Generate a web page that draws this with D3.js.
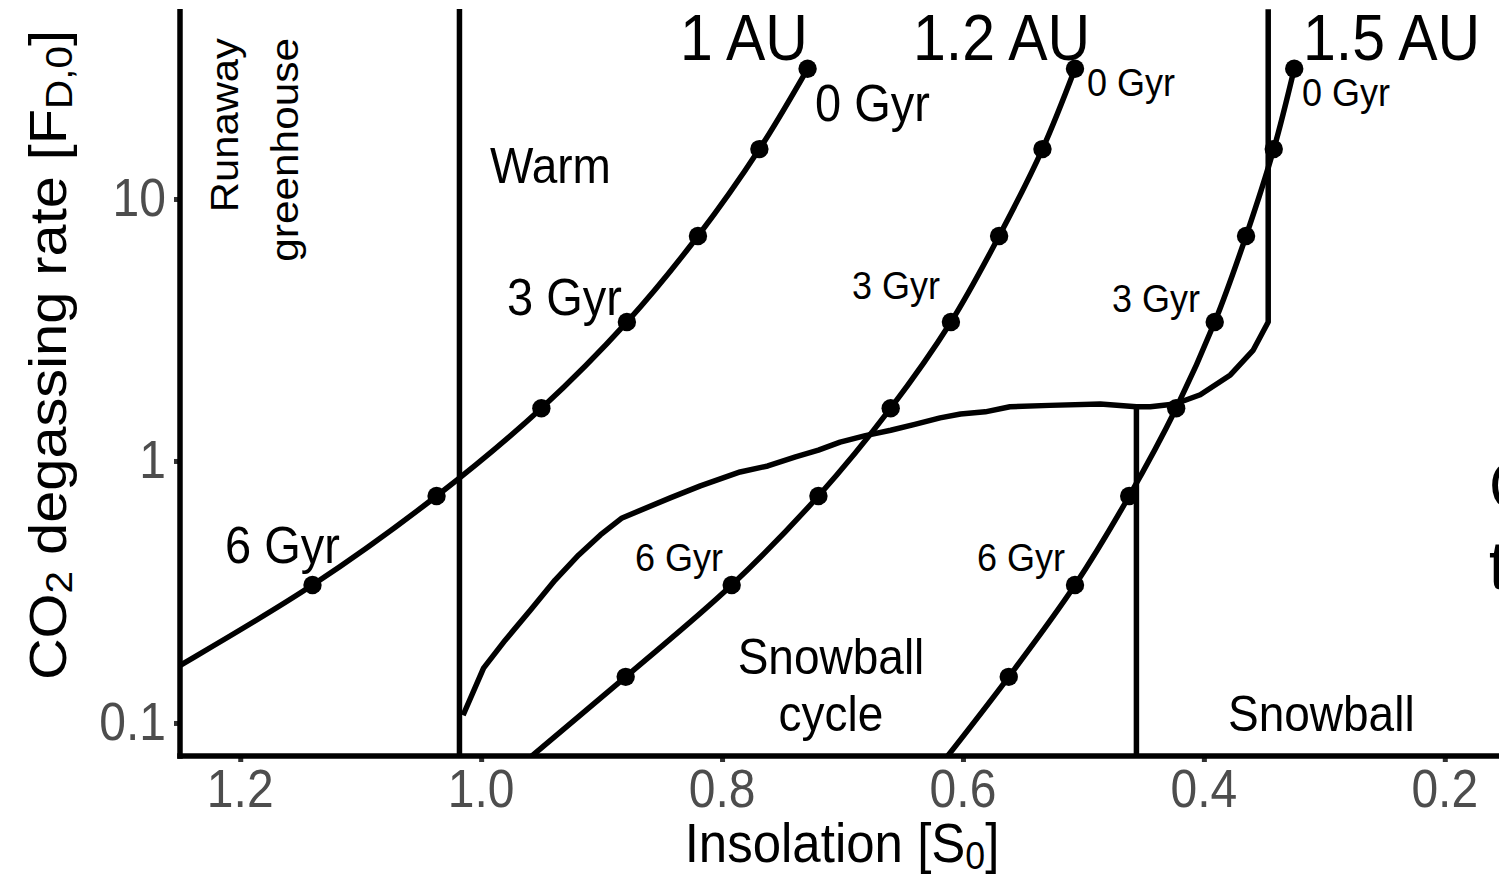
<!DOCTYPE html>
<html>
<head>
<meta charset="utf-8">
<script src="https://cdn.jsdelivr.net/npm/d3@7"></script>
<style>
  body { margin: 0; background: #fff; }
  svg { display: block; }
  text { font-family: "Liberation Sans", Arial, sans-serif; }
</style>
</head>
<body>
<svg id="chart" width="1499" height="879"></svg>
<script>
// Planet age (Gyr) and CO2 degassing rate relative to present [F_D,0]
const ages = [0, 1, 2, 3, 4, 5, 6, 7, 8];
const degassing = [31.4, 15.5, 7.22, 3.39, 1.59, 0.735, 0.336, 0.150, 0.066];

// Insolation [S0] received over time at each orbital distance
const insolation1AU  = [0.729, 0.769, 0.820, 0.879, 0.950, 1.037, 1.140, 1.266, 1.400];
const insolation12AU = [0.507, 0.534, 0.570, 0.610, 0.660, 0.720, 0.792, 0.880, 0.972];
const insolation15AU = [0.325, 0.342, 0.365, 0.391, 0.423, 0.462, 0.507, 0.562, 0.622];

// Climate regime boundaries
const runawayInsolation = 1.018;
const snowballInsolation = 0.456;
const snowballTopDegassing = 1.61;
const cycleInsolation = [0.3466, 0.3466, 0.359, 0.378, 0.403, 0.424, 0.4445, 0.456, 0.486, 0.528, 0.561, 0.5815,
  0.602, 0.619, 0.640, 0.660, 0.681, 0.702, 0.720, 0.739, 0.762, 0.785, 0.818, 0.843, 0.883, 0.901,
  0.919, 0.9386, 0.959, 0.980, 0.998, 1.015];
const cycleDegassing = [53, 3.39, 2.65, 2.13, 1.79, 1.65, 1.61, 1.61, 1.65, 1.63, 1.61, 1.54,
  1.51, 1.46, 1.38, 1.31, 1.25, 1.18, 1.10, 1.036, 0.957, 0.908, 0.803, 0.723, 0.606, 0.522,
  0.438, 0.351, 0.270, 0.207, 0.162, 0.107];

// Axis ticks
const xTicks = [1.2, 1.0, 0.8, 0.6, 0.4, 0.2];
const xTickLabels = ["1.2", "1.0", "0.8", "0.6", "0.4", "0.2"];
const yTicks = [0.1, 1, 10];
const yTickLabels = ["0.1", "1", "10"];

const svg = d3.select("#chart");
const padL = 180, padR = 1499, padT = 9, padB = 756;

const x = d3.scaleLinear().domain([1.25, 0.155]).range([padL, padR]);
const y = d3.scaleLog().domain([0.0748, 53.1]).range([padB, padT]);

svg.append("defs").append("clipPath").attr("id", "plot-clip")
  .append("rect").attr("x", padL).attr("y", padT).attr("width", padR - padL).attr("height", padB - padT);

const plot = svg.append("g").attr("clip-path", "url(#plot-clip)");
const LW = 5.5;

// Regime boundaries
plot.append("line")
  .attr("x1", x(runawayInsolation)).attr("x2", x(runawayInsolation))
  .attr("y1", padT).attr("y2", padB)
  .attr("stroke", "#000").attr("stroke-width", LW);

plot.append("line")
  .attr("x1", x(snowballInsolation)).attr("x2", x(snowballInsolation))
  .attr("y1", y(snowballTopDegassing)).attr("y2", padB)
  .attr("stroke", "#000").attr("stroke-width", LW);

const cycleLine = d3.line().x(d => x(d[0])).y(d => y(d[1])).curve(d3.curveLinear);
plot.append("path")
  .datum(d3.zip(cycleInsolation, cycleDegassing))
  .attr("d", cycleLine)
  .attr("fill", "none").attr("stroke", "#000").attr("stroke-width", LW)
  .attr("stroke-linejoin", "round");

// Evolution tracks
const tracks = [insolation1AU, insolation12AU, insolation15AU];
const trackLine = d3.line().x(d => x(d[0])).y(d => y(d[1])).curve(d3.curveCatmullRom.alpha(0.5));
tracks.forEach(ins => {
  const pts = d3.zip(ins, degassing);
  plot.append("path").datum(pts).attr("d", trackLine)
    .attr("fill", "none").attr("stroke", "#000").attr("stroke-width", LW);
  plot.selectAll(null).data(pts.slice(0, 8)).join("circle")
    .attr("cx", d => x(d[0])).attr("cy", d => y(d[1])).attr("r", 9.2).attr("fill", "#000");
});

// Axes
const xAxis = d3.axisBottom(x).tickValues(xTicks).tickFormat((d, i) => xTickLabels[i]).tickSize(6).tickPadding(4);
const gx = svg.append("g").attr("transform", `translate(0,${padB})`).call(xAxis);
gx.select(".domain").remove();
gx.selectAll(".tick line").attr("stroke", "#333").attr("stroke-width", 5);
gx.selectAll(".tick text").remove();

const yAxis = d3.axisLeft(y).tickValues(yTicks).tickFormat((d, i) => yTickLabels[i]).tickSize(6);
const gy = svg.append("g").attr("transform", `translate(${padL},0)`).call(yAxis);
gy.select(".domain").remove();
gy.selectAll(".tick line").attr("stroke", "#333").attr("stroke-width", 5);
gy.selectAll(".tick text").remove();

svg.append("line").attr("x1", padL).attr("x2", padL).attr("y1", padT).attr("y2", padB + LW / 2)
  .attr("stroke", "#000").attr("stroke-width", LW);
svg.append("line").attr("x1", padL - LW / 2).attr("x2", padR).attr("y1", padB).attr("y2", padB)
  .attr("stroke", "#000").attr("stroke-width", LW);

// Text helper: glyphs are drawn slightly taller than wide
function label(px, py, txt, size, anchor, opts = {}) {
  const t = svg.append("text")
    .attr("transform", `translate(${px},${py}) scale(1,1.1)` + (opts.rotate ? " rotate(-90)" : ""))
    .attr("font-size", size).attr("text-anchor", anchor || "start")
    .attr("fill", opts.fill || "#000");
  if (Array.isArray(txt)) {
    txt.forEach(p => {
      const s = t.append("tspan").text(p.t);
      if (p.sub) s.attr("font-size", size * 0.7).attr("dy", size * 0.12);
      else if (p.up) s.attr("dy", -size * 0.12);
    });
  } else t.text(txt);
  return t;
}

xTicks.forEach((v, i) => label(x(v), 807, xTickLabels[i], 48, "middle", { fill: "#4d4d4d" }));
yTicks.forEach((v, i) => label(166, y(v) + 17, yTickLabels[i], 48, "end", { fill: "#4d4d4d" }));

label(842, 862, [{ t: "Insolation [S" }, { t: "0", sub: true }, { t: "]", up: true }], 51, "middle");
label(66, 355, [{ t: "CO" }, { t: "2", sub: true }, { t: " degassing rate [F", up: true }, { t: "D,0", sub: true }, { t: "]", up: true }], 52.5, "middle", { rotate: true });

// Distance labels
label(680, 60, "1 AU", 59, "start");
label(913, 60, "1.2 AU", 59, "start");
label(1303, 60, "1.5 AU", 59, "start");

// Age labels
label(815, 121, "0 Gyr", 47, "start");
label(507, 315, "3 Gyr", 47, "start");
label(225, 563, "6 Gyr", 47, "start");
label(1087, 96, "0 Gyr", 36, "start");
label(852, 299, "3 Gyr", 36, "start");
label(635, 571, "6 Gyr", 36, "start");
label(1302, 106, "0 Gyr", 36, "start");
label(1112, 312, "3 Gyr", 36, "start");
label(977, 571, "6 Gyr", 36, "start");

// Regime labels
label(238, 38, "Runaway", 38, "end", { rotate: true });
label(298, 38, "greenhouse", 38.5, "end", { rotate: true });
label(490, 183, "Warm", 46, "start");
label(831, 674, "Snowball", 46, "middle");
label(831, 731, "cycle", 46, "middle");
label(1228, 731, "Snowball", 46, "start");
label(1489, 509, "Cold", 62, "start");
label(1489, 589, "the", 62, "start");
</script>
</body>
</html>
